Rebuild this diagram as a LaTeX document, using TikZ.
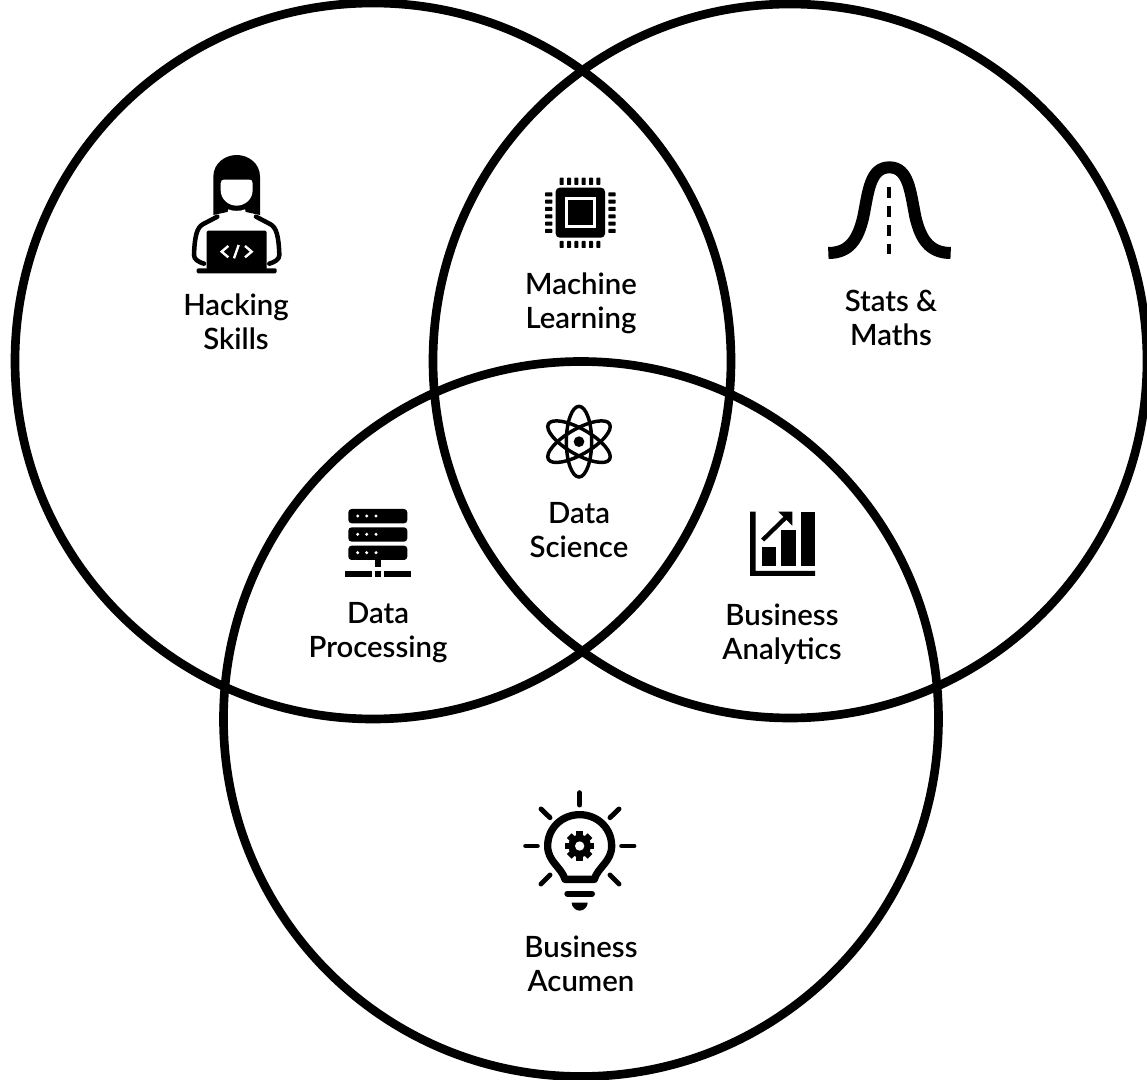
\documentclass[tikz,border=0pt]{standalone}
\usepackage{fontspec}
\setmainfont{Lato Semibold}
\usepackage{tikz}

\begin{document}
\begin{tikzpicture}[x=0.75pt,y=-0.75pt,
		ring/.style={draw=black,line width=6.5pt},
		skill/.style={align=center,font=\fontsize{22}{25.5}\selectfont,inner sep=0pt},
		icon/.style={x=0.25pt,y=-0.25pt},
		ink/.style={fill=black,draw=none},
		paper/.style={fill=white,draw=none}]
		\useasboundingbox (0,0) rectangle (1147,1080);
		\fill[white] (0,0) rectangle (1147,1080);

		\draw[ring] (373,361) circle (358);
		\draw[ring] (790,361) circle (357);
		\draw[ring] (581,719) circle (357.5);

		\node[skill] (hacking) at (236,322) {Hacking\\Skills};
		\node[skill] (machine) at (581,303) {Machine\\Learning};
		\node[skill] (stats) at (891,318) {Stats \&\\Maths};
		\node[skill] (science) at (579,530) {Data\\Science};
		\node[skill] (processing) at (378,633) {Data\\Processing};
		\node[skill] (analytics) at (782,634) {Business\\Analytics};
		\node[skill] (acumen) at (581,964) {Business\\Acumen};

		% hacker
		\begin{scope}[shift={(170,140)},icon]
			\fill[ink] (130,225) -- (130,110) .. controls (130,70) and (165,45) .. (200,45) .. controls (235,45) and (270,70) .. (270,110) -- (270,225) -- (228,216) -- (172,216) -- cycle;
			\fill[paper] (152,130) .. controls (152,122) and (156,119) .. (162,119) -- (238,119) .. controls (244,119) and (248,122) .. (248,130) -- (248,150) .. controls (248,178) and (225,197) .. (200,197) .. controls (175,197) and (152,178) .. (152,150) -- cycle;
			\fill[paper] (175,208) .. controls (185,214) and (215,214) .. (225,208) -- (228,220) .. controls (215,232) and (185,232) .. (172,220) -- cycle;
			\draw[line width=3.4pt,line cap=round,line join=round] (142,230) -- (100,252) .. controls (80,262) and (74,290) .. (72,345) .. controls (72,358) and (85,366) .. (102,371);
			\draw[line width=3.4pt,line cap=round,line join=round] (258,230) -- (300,252) .. controls (320,262) and (326,290) .. (328,345) .. controls (328,358) and (315,366) .. (298,371);
			\fill[ink,rounded corners=1pt] (110,272) rectangle (290,390);
			\fill[ink,rounded corners=1pt] (80,385) rectangle (320,400);
			\draw[white,line width=1.8pt] (175,318) -- (155,335) -- (175,352);
			\draw[white,line width=1.8pt] (206,315) -- (192,355);
			\draw[white,line width=1.8pt] (225,318) -- (245,335) -- (225,352);
		\end{scope}

		% chip
		\begin{scope}[shift={(530,165)},icon]
			\fill[ink,rounded corners=3pt] (77,68) rectangle (225,218);
			\fill[paper] (105,97) rectangle (197,188);
			\fill[ink] (113,105) rectangle (189,180);
			\foreach \i in {0,...,5} {
				\fill[ink,rounded corners=0.5pt] (89+22*\i,38) rectangle (101+22*\i,60);
				\fill[ink,rounded corners=0.5pt] (89+22*\i,228) rectangle (101+22*\i,249);
				\fill[ink,rounded corners=0.5pt] (45,82+22*\i) rectangle (67,94+22*\i);
				\fill[ink,rounded corners=0.5pt] (235,82+22*\i) rectangle (257,94+22*\i);
			}
		\end{scope}

		% bell curve
		\begin{scope}[shift={(815,150)},icon]
			\draw[line width=9pt] (40,309) .. controls (105,309) and (130,265) .. (145,200) .. controls (160,125) and (165,52) .. (223,52) .. controls (281,52) and (286,125) .. (301,200) .. controls (316,265) and (342,309) .. (407,309);
			\foreach \y/\yy in {110/145,167/200,225/258,283/313} {
				\fill[ink] (217,\y) rectangle (229,\yy);
			}
		\end{scope}

		% atom
		\begin{scope}[shift={(530,395)},icon]
			\foreach \a in {0,60,120} {
				\draw[line width=2.6pt,rotate around={\a:(147,140)}] (147,140) ellipse (38 and 106);
			}
			\fill[ink] (147,140) circle (16);
		\end{scope}

		% server
		\begin{scope}[shift={(330,495)},icon]
			\foreach \y in {42,97,152} {
				\fill[ink,rounded corners=2.5pt] (55,\y) rectangle (232,\y+43);
				\foreach \x in {83,110,138} {
					\fill[paper] (\x,\y+21) circle (5);
				}
			}
			\fill[ink] (135,195) rectangle (152,217);
			\fill[ink] (45,228) rectangle (125,246);
			\fill[ink] (135,228) rectangle (152,246);
			\fill[ink] (163,228) rectangle (242,246);
		\end{scope}

		% chart
		\begin{scope}[shift={(735,495)},icon]
			\fill[ink] (45,50) -- (62,50) -- (62,228) -- (240,228) -- (240,243) -- (45,243) -- cycle;
			\fill[ink] (80,155) rectangle (122,212);
			\fill[ink] (138,105) rectangle (182,212);
			\fill[ink] (197,50) rectangle (240,212);
			\draw[line width=3.2pt] (83,135) -- (155,65);
			\fill[ink] (130,50) -- (172,50) -- (172,92) -- cycle;
		\end{scope}

		% bulb
		\begin{scope}[shift={(510,780)},icon]
			\foreach \a/\b/\c/\d in {209/38/209/75,335/198/372/198,47/198/82/198,93/87/120/113,327/87/300/113,93/312/120/285,327/312/300/285} {
				\draw[line width=3.7pt,line cap=round] (\a,\b) -- (\c,\d);
			}
			\draw[line width=5.5pt,line join=round] (165,298) .. controls (155,262) and (113,245) .. (113,198) .. controls (113,145) and (155,104) .. (209,104) .. controls (263,104) and (305,145) .. (305,198) .. controls (305,245) and (263,262) .. (253,298) -- cycle;
			\draw[line width=4.5pt,line cap=round] (172,341) -- (246,341);
			\fill[ink] (185,368) -- (233,368) .. controls (233,380) and (222,392) .. (209,392) .. controls (196,392) and (185,380) .. (185,368) -- cycle;
			\foreach \a in {0,45,...,315} {
				\fill[ink,rotate around={\a:(209,198)}] (199,154) rectangle (219,180);
			}
			\fill[ink] (209,198) circle (34);
			\fill[paper] (209,198) circle (14);
		\end{scope}
	\end{tikzpicture}
\end{document}
